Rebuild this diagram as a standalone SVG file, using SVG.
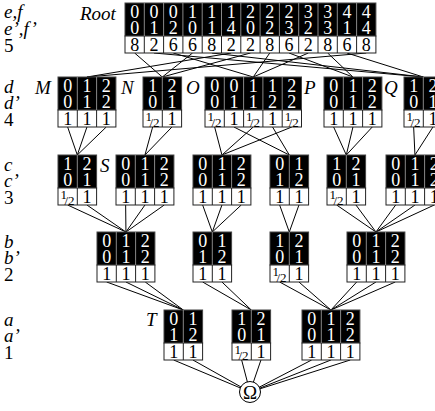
<svg xmlns="http://www.w3.org/2000/svg" width="435" height="411" viewBox="0 0 435 411">
<style>
.b{fill:#000;stroke:#444;stroke-width:1}
.w{fill:#fff;stroke:#222;stroke-width:1}
.dv{stroke:#888;stroke-width:1;fill:none}
.wd{stroke:#222;stroke-width:1;fill:none}
.t{font-family:"Liberation Serif","DejaVu Serif",serif;font-size:18px;text-anchor:middle}
.tw{fill:#fff}
.tk{fill:#000}
.hf{font-family:"Liberation Serif","DejaVu Serif",serif;font-size:13px;fill:#000}
.lb{font-family:"Liberation Serif","DejaVu Serif",serif;font-size:19px;fill:#000}
.it{font-style:italic}
.cn line{stroke:#000;stroke-width:1}
</style>
<g id="row-labels">
<text class="lb it" x="4" y="18">e,f</text>
<text class="lb it" x="4" y="35">e’,f’</text>
<text class="lb" x="4" y="52">5</text>
<text class="lb it" x="4" y="93">d</text>
<text class="lb it" x="4" y="109">d’</text>
<text class="lb" x="4" y="126">4</text>
<text class="lb it" x="4" y="171">c</text>
<text class="lb it" x="4" y="187">c’</text>
<text class="lb" x="4" y="204">3</text>
<text class="lb it" x="4" y="248">b</text>
<text class="lb it" x="4" y="264">b’</text>
<text class="lb" x="4" y="281">2</text>
<text class="lb it" x="4" y="326">a</text>
<text class="lb it" x="4" y="342">a’</text>
<text class="lb" x="4" y="359">1</text>
</g>
<g id="connectors" class="cn">
<line x1="134.65" y1="53" x2="162.3" y2="77"/>
<line x1="153.95" y1="53" x2="423.3" y2="77"/>
<line x1="173.25" y1="53" x2="253.25" y2="77"/>
<line x1="192.55" y1="53" x2="162.3" y2="77"/>
<line x1="211.85" y1="53" x2="423.3" y2="77"/>
<line x1="231.15" y1="53" x2="86.95" y2="77"/>
<line x1="250.45" y1="53" x2="162.3" y2="77"/>
<line x1="269.75" y1="53" x2="253.25" y2="77"/>
<line x1="289.05" y1="53" x2="352.95" y2="77"/>
<line x1="308.35" y1="53" x2="253.25" y2="77"/>
<line x1="327.65" y1="53" x2="352.95" y2="77"/>
<line x1="346.95" y1="53" x2="423.3" y2="77"/>
<line x1="366.25" y1="53" x2="86.95" y2="77"/>
<line x1="67.65" y1="127" x2="77.3" y2="155"/>
<line x1="86.95" y1="127" x2="77.3" y2="155"/>
<line x1="106.25" y1="127" x2="77.3" y2="155"/>
<line x1="152.65" y1="127" x2="144.95" y2="155"/>
<line x1="171.95" y1="127" x2="144.95" y2="155"/>
<line x1="214.65" y1="127" x2="221.95" y2="155"/>
<line x1="253.25" y1="127" x2="221.95" y2="155"/>
<line x1="291.85" y1="127" x2="221.95" y2="155"/>
<line x1="233.95" y1="127" x2="289.3" y2="155"/>
<line x1="272.55" y1="127" x2="289.3" y2="155"/>
<line x1="333.65" y1="127" x2="346.3" y2="155"/>
<line x1="352.95" y1="127" x2="346.3" y2="155"/>
<line x1="372.25" y1="127" x2="346.3" y2="155"/>
<line x1="413.65" y1="127" x2="414.95" y2="155"/>
<line x1="432.95" y1="127" x2="414.95" y2="155"/>
<line x1="67.65" y1="205" x2="125.95" y2="232"/>
<line x1="86.95" y1="205" x2="125.95" y2="232"/>
<line x1="125.65" y1="205" x2="125.95" y2="232"/>
<line x1="144.95" y1="205" x2="125.95" y2="232"/>
<line x1="164.25" y1="205" x2="125.95" y2="232"/>
<line x1="202.65" y1="205" x2="212.3" y2="232"/>
<line x1="221.95" y1="205" x2="212.3" y2="232"/>
<line x1="241.25" y1="205" x2="212.3" y2="232"/>
<line x1="279.65" y1="205" x2="289.3" y2="232"/>
<line x1="298.95" y1="205" x2="289.3" y2="232"/>
<line x1="336.65" y1="205" x2="375.95" y2="232"/>
<line x1="355.95" y1="205" x2="375.95" y2="232"/>
<line x1="395.65" y1="205" x2="375.95" y2="232"/>
<line x1="414.95" y1="205" x2="375.95" y2="232"/>
<line x1="434.25" y1="205" x2="375.95" y2="232"/>
<line x1="106.65" y1="282" x2="183.3" y2="310"/>
<line x1="125.95" y1="282" x2="183.3" y2="310"/>
<line x1="145.25" y1="282" x2="183.3" y2="310"/>
<line x1="202.65" y1="282" x2="251.3" y2="310"/>
<line x1="221.95" y1="282" x2="251.3" y2="310"/>
<line x1="279.65" y1="282" x2="330.95" y2="310"/>
<line x1="298.95" y1="282" x2="330.95" y2="310"/>
<line x1="356.65" y1="282" x2="330.95" y2="310"/>
<line x1="375.95" y1="282" x2="330.95" y2="310"/>
<line x1="395.25" y1="282" x2="330.95" y2="310"/>
<line x1="173.65" y1="360" x2="250" y2="392"/>
<line x1="192.95" y1="360" x2="250" y2="392"/>
<line x1="241.65" y1="360" x2="250" y2="392"/>
<line x1="260.95" y1="360" x2="250" y2="392"/>
<line x1="311.65" y1="360" x2="250" y2="392"/>
<line x1="330.95" y1="360" x2="250" y2="392"/>
<line x1="350.25" y1="360" x2="250" y2="392"/>
</g>
<g id="Root">
<text class="lb it" x="80" y="20">Root</text>
<g transform="translate(125,3)">
<rect class="b" width="250.9" height="33"/>
<rect class="w" y="33" width="250.9" height="17"/>
<path class="dv" d="M19.3 0V33M38.6 0V33M57.9 0V33M77.2 0V33M96.5 0V33M115.8 0V33M135.1 0V33M154.4 0V33M173.7 0V33M193 0V33M212.3 0V33M231.6 0V33"/>
<path class="wd" d="M19.3 33V50M38.6 33V50M57.9 33V50M77.2 33V50M96.5 33V50M115.8 33V50M135.1 33V50M154.4 33V50M173.7 33V50M193 33V50M212.3 33V50M231.6 33V50"/>
<text class="t tw" x="9.65" y="15">0</text><text class="t tw" x="28.95" y="15">0</text><text class="t tw" x="48.25" y="15">0</text><text class="t tw" x="67.55" y="15">1</text><text class="t tw" x="86.85" y="15">1</text><text class="t tw" x="106.15" y="15">1</text><text class="t tw" x="125.45" y="15">2</text><text class="t tw" x="144.75" y="15">2</text><text class="t tw" x="164.05" y="15">2</text><text class="t tw" x="183.35" y="15">3</text><text class="t tw" x="202.65" y="15">3</text><text class="t tw" x="221.95" y="15">4</text><text class="t tw" x="241.25" y="15">4</text>
<text class="t tw" x="9.65" y="31">0</text><text class="t tw" x="28.95" y="31">1</text><text class="t tw" x="48.25" y="31">2</text><text class="t tw" x="67.55" y="31">0</text><text class="t tw" x="86.85" y="31">1</text><text class="t tw" x="106.15" y="31">4</text><text class="t tw" x="125.45" y="31">0</text><text class="t tw" x="144.75" y="31">2</text><text class="t tw" x="164.05" y="31">3</text><text class="t tw" x="183.35" y="31">2</text><text class="t tw" x="202.65" y="31">3</text><text class="t tw" x="221.95" y="31">1</text><text class="t tw" x="241.25" y="31">4</text>
<text class="t tk" x="9.65" y="48">8</text><text class="t tk" x="28.95" y="48">2</text><text class="t tk" x="48.25" y="48">6</text><text class="t tk" x="67.55" y="48">6</text><text class="t tk" x="86.85" y="48">8</text><text class="t tk" x="106.15" y="48">2</text><text class="t tk" x="125.45" y="48">2</text><text class="t tk" x="144.75" y="48">8</text><text class="t tk" x="164.05" y="48">6</text><text class="t tk" x="183.35" y="48">2</text><text class="t tk" x="202.65" y="48">8</text><text class="t tk" x="221.95" y="48">6</text><text class="t tk" x="241.25" y="48">8</text>
</g>
</g>
<g id="M">
<text class="lb it" x="35" y="94">M</text>
<g transform="translate(58,77)">
<rect class="b" width="57.9" height="33"/><rect class="w" y="33" width="57.9" height="17"/>
<path class="dv" d="M19.3 0V33M38.6 0V33"/><path class="wd" d="M19.3 33V50M38.6 33V50"/>
<text class="t tw" x="9.65" y="15">0</text><text class="t tw" x="28.95" y="15">1</text><text class="t tw" x="48.25" y="15">2</text>
<text class="t tw" x="9.65" y="31">0</text><text class="t tw" x="28.95" y="31">1</text><text class="t tw" x="48.25" y="31">2</text>
<text class="t tk" x="9.65" y="48">1</text><text class="t tk" x="28.95" y="48">1</text><text class="t tk" x="48.25" y="48">1</text>
</g>
</g>
<g id="N">
<text class="lb it" x="121" y="94">N</text>
<g transform="translate(143,77)">
<rect class="b" width="38.6" height="33"/><rect class="w" y="33" width="38.6" height="17"/>
<path class="dv" d="M19.3 0V33"/><path class="wd" d="M19.3 33V50"/>
<text class="t tw" x="9.65" y="15">1</text><text class="t tw" x="28.95" y="15">2</text>
<text class="t tw" x="9.65" y="31">0</text><text class="t tw" x="28.95" y="31">1</text>
<text class="hf" x="2.5" y="44">1</text><text class="hf" x="6.5" y="49.5">/</text><text class="hf" x="10" y="49.5">2</text><text class="t tk" x="28.95" y="48">1</text>
</g>
</g>
<g id="O">
<text class="lb it" x="186" y="94">O</text>
<g transform="translate(205,77)">
<rect class="b" width="96.5" height="33"/><rect class="w" y="33" width="96.5" height="17"/>
<path class="dv" d="M19.3 0V33M38.6 0V33M57.9 0V33M77.2 0V33"/><path class="wd" d="M19.3 33V50M38.6 33V50M57.9 33V50M77.2 33V50"/>
<text class="t tw" x="9.65" y="15">0</text><text class="t tw" x="28.95" y="15">0</text><text class="t tw" x="48.25" y="15">1</text><text class="t tw" x="67.55" y="15">1</text><text class="t tw" x="86.85" y="15">2</text>
<text class="t tw" x="9.65" y="31">0</text><text class="t tw" x="28.95" y="31">1</text><text class="t tw" x="48.25" y="31">1</text><text class="t tw" x="67.55" y="31">2</text><text class="t tw" x="86.85" y="31">2</text>
<text class="hf" x="2.5" y="44">1</text><text class="hf" x="6.5" y="49.5">/</text><text class="hf" x="10" y="49.5">2</text>
<text class="t tk" x="28.95" y="48">1</text>
<text class="hf" x="41.1" y="44">1</text><text class="hf" x="45.1" y="49.5">/</text><text class="hf" x="48.6" y="49.5">2</text>
<text class="t tk" x="67.55" y="48">1</text>
<text class="hf" x="79.7" y="44">1</text><text class="hf" x="83.7" y="49.5">/</text><text class="hf" x="87.2" y="49.5">2</text>
</g>
</g>
<g id="P">
<text class="lb it" x="304" y="94">P</text>
<g transform="translate(324,77)">
<rect class="b" width="57.9" height="33"/><rect class="w" y="33" width="57.9" height="17"/>
<path class="dv" d="M19.3 0V33M38.6 0V33"/><path class="wd" d="M19.3 33V50M38.6 33V50"/>
<text class="t tw" x="9.65" y="15">0</text><text class="t tw" x="28.95" y="15">1</text><text class="t tw" x="48.25" y="15">2</text>
<text class="t tw" x="9.65" y="31">0</text><text class="t tw" x="28.95" y="31">1</text><text class="t tw" x="48.25" y="31">2</text>
<text class="t tk" x="9.65" y="48">1</text><text class="t tk" x="28.95" y="48">1</text><text class="t tk" x="48.25" y="48">1</text>
</g>
</g>
<g id="Q">
<text class="lb it" x="384" y="94">Q</text>
<g transform="translate(404,77)">
<rect class="b" width="38.6" height="33"/><rect class="w" y="33" width="38.6" height="17"/>
<path class="dv" d="M19.3 0V33"/><path class="wd" d="M19.3 33V50"/>
<text class="t tw" x="9.65" y="15">1</text><text class="t tw" x="28.95" y="15">2</text>
<text class="t tw" x="9.65" y="31">0</text><text class="t tw" x="28.95" y="31">1</text>
<text class="hf" x="2.5" y="44">1</text><text class="hf" x="6.5" y="49.5">/</text><text class="hf" x="10" y="49.5">2</text><text class="t tk" x="28.95" y="48">1</text>
</g>
</g>
<g id="c1">
<g transform="translate(58,155)">
<rect class="b" width="38.6" height="33"/><rect class="w" y="33" width="38.6" height="17"/>
<path class="dv" d="M19.3 0V33"/><path class="wd" d="M19.3 33V50"/>
<text class="t tw" x="9.65" y="15">1</text><text class="t tw" x="28.95" y="15">2</text>
<text class="t tw" x="9.65" y="31">0</text><text class="t tw" x="28.95" y="31">1</text>
<text class="hf" x="2.5" y="44">1</text><text class="hf" x="6.5" y="49.5">/</text><text class="hf" x="10" y="49.5">2</text><text class="t tk" x="28.95" y="48">1</text>
</g>
</g>
<g id="S">
<text class="lb it" x="100" y="172">S</text>
<g transform="translate(116,155)">
<rect class="b" width="57.9" height="33"/><rect class="w" y="33" width="57.9" height="17"/>
<path class="dv" d="M19.3 0V33M38.6 0V33"/><path class="wd" d="M19.3 33V50M38.6 33V50"/>
<text class="t tw" x="9.65" y="15">0</text><text class="t tw" x="28.95" y="15">1</text><text class="t tw" x="48.25" y="15">2</text>
<text class="t tw" x="9.65" y="31">0</text><text class="t tw" x="28.95" y="31">1</text><text class="t tw" x="48.25" y="31">2</text>
<text class="t tk" x="9.65" y="48">1</text><text class="t tk" x="28.95" y="48">1</text><text class="t tk" x="48.25" y="48">1</text>
</g>
</g>
<g id="c3">
<g transform="translate(193,155)">
<rect class="b" width="57.9" height="33"/><rect class="w" y="33" width="57.9" height="17"/>
<path class="dv" d="M19.3 0V33M38.6 0V33"/><path class="wd" d="M19.3 33V50M38.6 33V50"/>
<text class="t tw" x="9.65" y="15">0</text><text class="t tw" x="28.95" y="15">1</text><text class="t tw" x="48.25" y="15">2</text>
<text class="t tw" x="9.65" y="31">0</text><text class="t tw" x="28.95" y="31">1</text><text class="t tw" x="48.25" y="31">2</text>
<text class="t tk" x="9.65" y="48">1</text><text class="t tk" x="28.95" y="48">1</text><text class="t tk" x="48.25" y="48">1</text>
</g>
</g>
<g id="c4">
<g transform="translate(270,155)">
<rect class="b" width="38.6" height="33"/><rect class="w" y="33" width="38.6" height="17"/>
<path class="dv" d="M19.3 0V33"/><path class="wd" d="M19.3 33V50"/>
<text class="t tw" x="9.65" y="15">0</text><text class="t tw" x="28.95" y="15">1</text>
<text class="t tw" x="9.65" y="31">1</text><text class="t tw" x="28.95" y="31">2</text>
<text class="t tk" x="9.65" y="48">1</text><text class="t tk" x="28.95" y="48">1</text>
</g>
</g>
<g id="c5">
<g transform="translate(327,155)">
<rect class="b" width="38.6" height="33"/><rect class="w" y="33" width="38.6" height="17"/>
<path class="dv" d="M19.3 0V33"/><path class="wd" d="M19.3 33V50"/>
<text class="t tw" x="9.65" y="15">1</text><text class="t tw" x="28.95" y="15">2</text>
<text class="t tw" x="9.65" y="31">0</text><text class="t tw" x="28.95" y="31">1</text>
<text class="hf" x="2.5" y="44">1</text><text class="hf" x="6.5" y="49.5">/</text><text class="hf" x="10" y="49.5">2</text><text class="t tk" x="28.95" y="48">1</text>
</g>
</g>
<g id="c6">
<g transform="translate(386,155)">
<rect class="b" width="57.9" height="33"/><rect class="w" y="33" width="57.9" height="17"/>
<path class="dv" d="M19.3 0V33M38.6 0V33"/><path class="wd" d="M19.3 33V50M38.6 33V50"/>
<text class="t tw" x="9.65" y="15">0</text><text class="t tw" x="28.95" y="15">1</text><text class="t tw" x="48.25" y="15">2</text>
<text class="t tw" x="9.65" y="31">0</text><text class="t tw" x="28.95" y="31">1</text><text class="t tw" x="48.25" y="31">2</text>
<text class="t tk" x="9.65" y="48">1</text><text class="t tk" x="28.95" y="48">1</text><text class="t tk" x="48.25" y="48">1</text>
</g>
</g>
<g id="b1">
<g transform="translate(97,232)">
<rect class="b" width="57.9" height="33"/><rect class="w" y="33" width="57.9" height="17"/>
<path class="dv" d="M19.3 0V33M38.6 0V33"/><path class="wd" d="M19.3 33V50M38.6 33V50"/>
<text class="t tw" x="9.65" y="15">0</text><text class="t tw" x="28.95" y="15">1</text><text class="t tw" x="48.25" y="15">2</text>
<text class="t tw" x="9.65" y="31">0</text><text class="t tw" x="28.95" y="31">1</text><text class="t tw" x="48.25" y="31">2</text>
<text class="t tk" x="9.65" y="48">1</text><text class="t tk" x="28.95" y="48">1</text><text class="t tk" x="48.25" y="48">1</text>
</g>
</g>
<g id="b2">
<g transform="translate(193,232)">
<rect class="b" width="38.6" height="33"/><rect class="w" y="33" width="38.6" height="17"/>
<path class="dv" d="M19.3 0V33"/><path class="wd" d="M19.3 33V50"/>
<text class="t tw" x="9.65" y="15">0</text><text class="t tw" x="28.95" y="15">1</text>
<text class="t tw" x="9.65" y="31">1</text><text class="t tw" x="28.95" y="31">2</text>
<text class="t tk" x="9.65" y="48">1</text><text class="t tk" x="28.95" y="48">1</text>
</g>
</g>
<g id="b3">
<g transform="translate(270,232)">
<rect class="b" width="38.6" height="33"/><rect class="w" y="33" width="38.6" height="17"/>
<path class="dv" d="M19.3 0V33"/><path class="wd" d="M19.3 33V50"/>
<text class="t tw" x="9.65" y="15">1</text><text class="t tw" x="28.95" y="15">2</text>
<text class="t tw" x="9.65" y="31">0</text><text class="t tw" x="28.95" y="31">1</text>
<text class="hf" x="2.5" y="44">1</text><text class="hf" x="6.5" y="49.5">/</text><text class="hf" x="10" y="49.5">2</text><text class="t tk" x="28.95" y="48">1</text>
</g>
</g>
<g id="b4">
<g transform="translate(347,232)">
<rect class="b" width="57.9" height="33"/><rect class="w" y="33" width="57.9" height="17"/>
<path class="dv" d="M19.3 0V33M38.6 0V33"/><path class="wd" d="M19.3 33V50M38.6 33V50"/>
<text class="t tw" x="9.65" y="15">0</text><text class="t tw" x="28.95" y="15">1</text><text class="t tw" x="48.25" y="15">2</text>
<text class="t tw" x="9.65" y="31">0</text><text class="t tw" x="28.95" y="31">1</text><text class="t tw" x="48.25" y="31">2</text>
<text class="t tk" x="9.65" y="48">1</text><text class="t tk" x="28.95" y="48">1</text><text class="t tk" x="48.25" y="48">1</text>
</g>
</g>
<g id="T">
<text class="lb it" x="146" y="326">T</text>
<g transform="translate(164,310)">
<rect class="b" width="38.6" height="33"/><rect class="w" y="33" width="38.6" height="17"/>
<path class="dv" d="M19.3 0V33"/><path class="wd" d="M19.3 33V50"/>
<text class="t tw" x="9.65" y="15">0</text><text class="t tw" x="28.95" y="15">1</text>
<text class="t tw" x="9.65" y="31">1</text><text class="t tw" x="28.95" y="31">2</text>
<text class="t tk" x="9.65" y="48">1</text><text class="t tk" x="28.95" y="48">1</text>
</g>
</g>
<g id="a2">
<g transform="translate(232,310)">
<rect class="b" width="38.6" height="33"/><rect class="w" y="33" width="38.6" height="17"/>
<path class="dv" d="M19.3 0V33"/><path class="wd" d="M19.3 33V50"/>
<text class="t tw" x="9.65" y="15">1</text><text class="t tw" x="28.95" y="15">2</text>
<text class="t tw" x="9.65" y="31">0</text><text class="t tw" x="28.95" y="31">1</text>
<text class="hf" x="2.5" y="44">1</text><text class="hf" x="6.5" y="49.5">/</text><text class="hf" x="10" y="49.5">2</text><text class="t tk" x="28.95" y="48">1</text>
</g>
</g>
<g id="a3">
<g transform="translate(302,310)">
<rect class="b" width="57.9" height="33"/><rect class="w" y="33" width="57.9" height="17"/>
<path class="dv" d="M19.3 0V33M38.6 0V33"/><path class="wd" d="M19.3 33V50M38.6 33V50"/>
<text class="t tw" x="9.65" y="15">0</text><text class="t tw" x="28.95" y="15">1</text><text class="t tw" x="48.25" y="15">2</text>
<text class="t tw" x="9.65" y="31">0</text><text class="t tw" x="28.95" y="31">1</text><text class="t tw" x="48.25" y="31">2</text>
<text class="t tk" x="9.65" y="48">1</text><text class="t tk" x="28.95" y="48">1</text><text class="t tk" x="48.25" y="48">1</text>
</g>
</g>
<g id="Omega">
<circle cx="250" cy="392" r="10.5" fill="#fff" stroke="#000" stroke-width="1"/>
<text class="t tk" x="250" y="398.5" style="font-size:19px">Ω</text>
</g>
</svg>
